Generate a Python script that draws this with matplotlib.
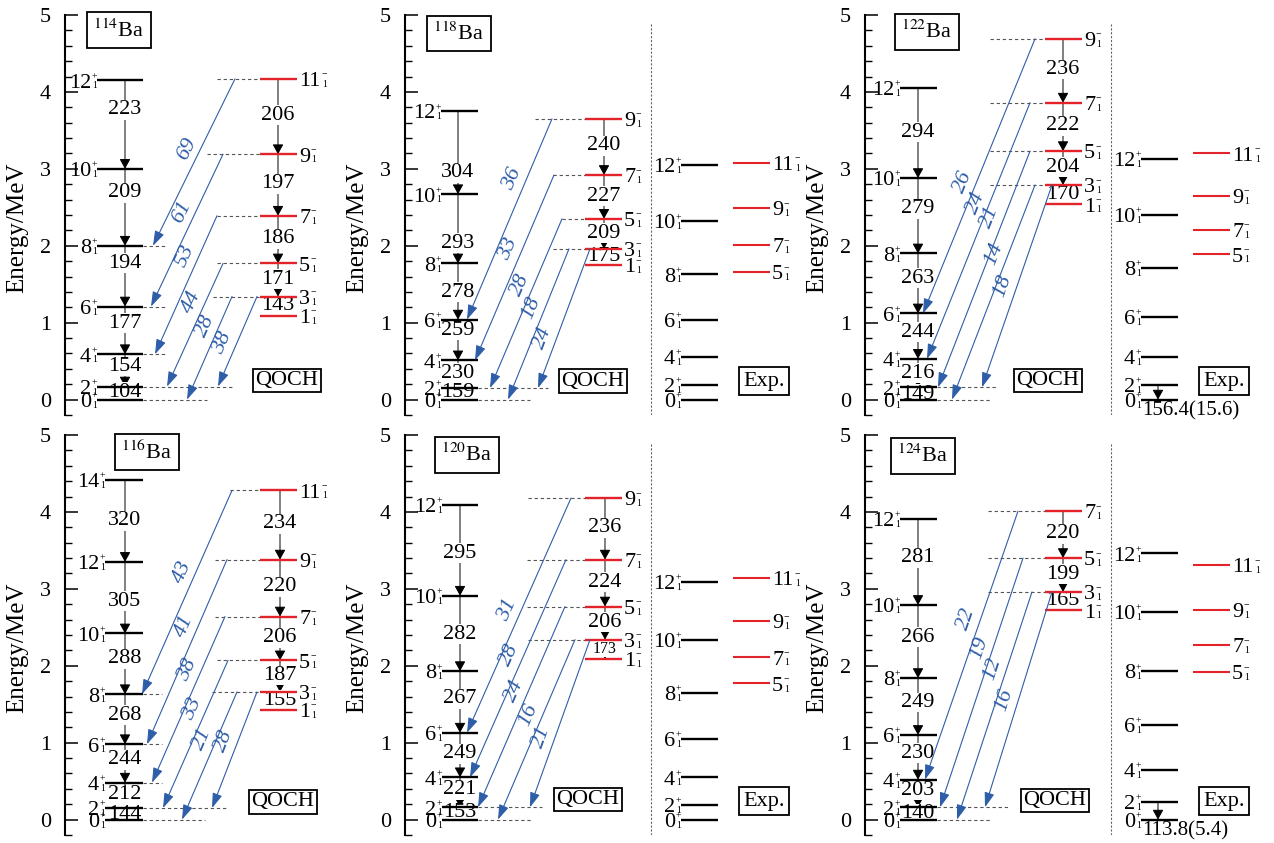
import math

import matplotlib

matplotlib.use("Agg")
import matplotlib.pyplot as plt
from matplotlib.ticker import MultipleLocator

plt.rcParams["font.family"] = ["Liberation Serif", "DejaVu Serif"]
plt.rcParams["mathtext.fontset"] = "stix"

# ---------------- values (energies in MeV) ----------------
GSB_SPINS = [0, 2, 4, 6, 8, 10, 12]
GSB_SPINS_116 = [0, 2, 4, 6, 8, 10, 12, 14]
EXP_NEG_SPINS = [5, 7, 9, 11]

BA114_GSB_E = [0.0, 0.17, 0.59, 1.21, 2.00, 3.00, 4.15]
BA114_GSB_B = [104, 154, 177, 194, 209, 223]
BA114_NEG_SPINS = [1, 3, 5, 7, 9, 11]
BA114_NEG_E = [1.09, 1.34, 1.77, 2.39, 3.19, 4.17]
BA114_NEG_B = [143, 171, 186, 197, 206]
BA114_E3_FROM = [11, 9, 7, 5, 3, 3]
BA114_E3_TO = [8, 6, 4, 2, 0, 2]
BA114_E3_VAL = [69, 61, 53, 44, 28, 38]

BA116_GSB_E = [0.0, 0.15, 0.48, 0.98, 1.63, 2.42, 3.35, 4.42]
BA116_GSB_B = [144, 212, 244, 268, 288, 305, 320]
BA116_NEG_SPINS = [1, 3, 5, 7, 9, 11]
BA116_NEG_E = [1.43, 1.66, 2.07, 2.64, 3.38, 4.28]
BA116_NEG_B = [155, 187, 206, 220, 234]
BA116_E3_FROM = [11, 9, 7, 5, 3, 3]
BA116_E3_TO = [8, 6, 4, 2, 0, 2]
BA116_E3_VAL = [43, 41, 38, 33, 21, 28]

BA118_GSB_E = [0.0, 0.15, 0.51, 1.04, 1.77, 2.67, 3.75]
BA118_GSB_B = [159, 230, 259, 278, 293, 304]
BA118_NEG_SPINS = [1, 3, 5, 7, 9]
BA118_NEG_E = [1.75, 1.96, 2.35, 2.92, 3.65]
BA118_NEG_B = [175, 209, 227, 240]
BA118_E3_FROM = [9, 7, 5, 3, 3]
BA118_E3_TO = [6, 4, 2, 0, 2]
BA118_E3_VAL = [36, 33, 28, 18, 24]
EXP118_GSB_E = [0.0, 0.19, 0.56, 1.04, 1.63, 2.32, 3.05]
EXP118_NEG_E = [1.66, 2.01, 2.49, 3.08]

BA120_GSB_E = [0.0, 0.16, 0.55, 1.13, 1.93, 2.91, 4.09]
BA120_GSB_B = [153, 221, 249, 267, 282, 295]
BA120_NEG_SPINS = [1, 3, 5, 7, 9]
BA120_NEG_E = [2.09, 2.34, 2.77, 3.38, 4.18]
BA120_NEG_B = [173, 206, 224, 236]
BA120_E3_FROM = [9, 7, 5, 3, 3]
BA120_E3_TO = [6, 4, 2, 0, 2]
BA120_E3_VAL = [31, 28, 24, 16, 21]
EXP120_GSB_E = [0.0, 0.19, 0.55, 1.05, 1.65, 2.34, 3.09]
EXP120_NEG_E = [1.77, 2.11, 2.58, 3.14]

BA122_GSB_E = [0.0, 0.16, 0.53, 1.12, 1.90, 2.88, 4.05]
BA122_GSB_B = [149, 216, 244, 263, 279, 294]
BA122_NEG_SPINS = [1, 3, 5, 7, 9]
BA122_NEG_E = [2.54, 2.79, 3.23, 3.86, 4.69]
BA122_NEG_B = [170, 204, 222, 236]
BA122_E3_FROM = [9, 7, 5, 3, 3]
BA122_E3_TO = [6, 4, 2, 0, 2]
BA122_E3_VAL = [26, 24, 21, 14, 18]
EXP122_GSB_E = [0.0, 0.19, 0.56, 1.08, 1.71, 2.40, 3.13]
EXP122_NEG_E = [1.89, 2.21, 2.65, 3.20]
EXP122_BE2 = "156.4(15.6)"

BA124_GSB_E = [0.0, 0.16, 0.52, 1.10, 1.84, 2.79, 3.91]
BA124_GSB_B = [140, 203, 230, 249, 266, 281]
BA124_NEG_SPINS = [1, 3, 5, 7]
BA124_NEG_E = [2.72, 2.96, 3.40, 4.01]
BA124_NEG_B = [165, 199, 220]
BA124_E3_FROM = [7, 5, 3, 3]
BA124_E3_TO = [4, 2, 0, 2]
BA124_E3_VAL = [22, 19, 12, 16]
EXP124_GSB_E = [0.0, 0.23, 0.65, 1.23, 1.93, 2.70, 3.46]
EXP124_NEG_E = [1.92, 2.27, 2.73, 3.31]
EXP124_BE2 = "113.8(5.4)"

# ---------------- layout (pixel offsets from the left spine) ----------------
FIG_W, FIG_H = 1274, 843
AX_H = 400
ROW_TOP = [15, 435]
COLS = [(65, 265), (405, 395), (865, 409)]
FS = 16
FS_SMALL = 7
RED = "#e3232a"
BLUE = "#2f5ea8"
DASH = "#555555"

PANELS = [
    dict(A=114, row=0, col=0, spins=GSB_SPINS, gsb_e=BA114_GSB_E, gsb_b=BA114_GSB_B,
         neg_s=BA114_NEG_SPINS, neg_e=BA114_NEG_E, neg_b=BA114_NEG_B,
         e3_from=BA114_E3_FROM, e3_to=BA114_E3_TO, e3_val=BA114_E3_VAL, exp=None,
         gsb=(32, 78), gsb_ax=60, neg=(195, 232), neg_ax=213, nuc=(54, 4.80), qoch=(222, 0.25),
         x0=[170, 158, 152, 158, 167, 192], x1=[88, 86, 90, 102, 122, 153],
         t=[0.42, 0.38, 0.29, 0.31, 0.29, 0.52], gf=[0.56, 0.62, 0.65, 0.71, 0.69, 0.67],
         gdash={8: 102, 6: 102, 4: 102, 2: 167, 0: 142},
         ndash={11: 152, 9: 142, 7: 152, 5: 152, 3: 148}),
    dict(A=118, row=0, col=1, spins=GSB_SPINS, gsb_e=BA118_GSB_E, gsb_b=BA118_GSB_B,
         neg_s=BA118_NEG_SPINS, neg_e=BA118_NEG_E, neg_b=BA118_NEG_B,
         e3_from=BA118_E3_FROM, e3_to=BA118_E3_TO, e3_val=BA118_E3_VAL,
         exp=dict(gsb_e=EXP118_GSB_E, neg_e=EXP118_NEG_E, be2=None),
         gsb=(36, 73), gsb_ax=53, neg=(180, 217), neg_ax=199, nuc=(54, 4.76), qoch=(188, 0.24),
         x0=[147, 149, 157, 164, 185], x1=[62, 70, 85, 103, 133],
         t=[0.30, 0.40, 0.39, 0.39, 0.64], gf=[0.6, 0.54, 0.74, 0.49, 0.29, 0.26],
         gdash={2: 143, 0: 125}, ndash={9: 130, 7: 148, 5: 157, 3: 148}),
    dict(A=122, row=0, col=2, spins=GSB_SPINS, gsb_e=BA122_GSB_E, gsb_b=BA122_GSB_B,
         neg_s=BA122_NEG_SPINS, neg_e=BA122_NEG_E, neg_b=BA122_NEG_B,
         e3_from=BA122_E3_FROM, e3_to=BA122_E3_TO, e3_val=BA122_E3_VAL,
         exp=dict(gsb_e=EXP122_GSB_E, neg_e=EXP122_NEG_E, be2=EXP122_BE2),
         gsb=(35, 72), gsb_ax=53, neg=(180, 217), neg_ax=198, nuc=(62, 4.78), qoch=(183, 0.25),
         x0=[170, 165, 165, 170, 187], x1=[58, 62, 73, 87, 117],
         t=[0.52, 0.39, 0.28, 0.32, 0.50], gf=[0.44, 0.49, 0.59, 0.59, 0.59, 0.51],
         gdash={2: 133, 0: 127}, ndash={9: 125, 7: 125, 5: 125, 3: 125}),
    dict(A=116, row=1, col=0, spins=GSB_SPINS_116, gsb_e=BA116_GSB_E, gsb_b=BA116_GSB_B,
         neg_s=BA116_NEG_SPINS, neg_e=BA116_NEG_E, neg_b=BA116_NEG_B,
         e3_from=BA116_E3_FROM, e3_to=BA116_E3_TO, e3_val=BA116_E3_VAL, exp=None,
         gsb=(40, 78), gsb_ax=60, neg=(195, 232), neg_ax=215, nuc=(82, 4.78), qoch=(218, 0.23),
         x0=[167, 162, 160, 163, 172, 192], x1=[77, 82, 87, 98, 117, 147],
         t=[0.40, 0.36, 0.32, 0.33, 0.37, 0.42], gf=[0.47, 0.52, 0.6, 0.58, 0.58, 0.45, 0.5],
         gdash={8: 97, 6: 97, 4: 97, 2: 162, 0: 140},
         ndash={11: 165, 9: 150, 7: 150, 5: 152, 3: 147}),
    dict(A=120, row=1, col=1, spins=GSB_SPINS, gsb_e=BA120_GSB_E, gsb_b=BA120_GSB_B,
         neg_s=BA120_NEG_SPINS, neg_e=BA120_NEG_E, neg_b=BA120_NEG_B,
         e3_from=BA120_E3_FROM, e3_to=BA120_E3_TO, e3_val=BA120_E3_VAL,
         exp=dict(gsb_e=EXP120_GSB_E, neg_e=EXP120_NEG_E, be2=None),
         gsb=(37, 73), gsb_ax=55, neg=(180, 217), neg_ax=200, nuc=(62, 4.74), qoch=(183, 0.26),
         x0=[166, 161, 160, 170, 185], x1=[62, 65, 73, 93, 125],
         t=[0.475, 0.44, 0.42, 0.42, 0.58], gf=[0.54, 0.59, 0.53, 0.55, 0.49, 0.47],
         gdash={2: 137, 0: 128}, ndash={9: 123, 7: 122, 5: 122, 3: 123}, small_neg=[0]),
    dict(A=124, row=1, col=2, spins=GSB_SPINS, gsb_e=BA124_GSB_E, gsb_b=BA124_GSB_B,
         neg_s=BA124_NEG_SPINS, neg_e=BA124_NEG_E, neg_b=BA124_NEG_B,
         e3_from=BA124_E3_FROM, e3_to=BA124_E3_TO, e3_val=BA124_E3_VAL,
         exp=dict(gsb_e=EXP124_GSB_E, neg_e=EXP124_NEG_E, be2=EXP124_BE2),
         gsb=(35, 72), gsb_ax=53, neg=(180, 217), neg_ax=198, nuc=(58, 4.73), qoch=(190, 0.25),
         x0=[153, 158, 167, 187], x1=[60, 75, 92, 120],
         t=[0.40, 0.36, 0.34, 0.50], gf=[0.46, 0.61, 0.59, 0.57, 0.56, 0.55],
         gdash={2: 143, 0: 127}, ndash={7: 123, 5: 123, 3: 123}),
]

EXP_SEP = 246
EXP_GSB = (276, 313)
EXP_NEG = (328, 365)
EXP_BOX = (359, 0.24)
EXP_ARROW_X = 293


def level_label(ax, x, e, spin, parity, side):
    # spin number with a small stacked parity (sup) and index 1 (sub)
    num = str(spin)
    base = -0.33 * FS
    if side == "left":
        col = -4.2
        ax.annotate(num, (x, e), xytext=(col, base), textcoords="offset points",
                    ha="right", va="baseline", fontsize=FS, zorder=3)
    else:
        ax.annotate(num, (x, e), xytext=(1.5, base), textcoords="offset points",
                    ha="left", va="baseline", fontsize=FS, zorder=3)
        col = 1.5 + 0.5 * FS * len(num) + 0.2
    sign = "+" if parity == "+" else "\u2212"
    ax.annotate(sign, (x, e), xytext=(col, 1.0), textcoords="offset points",
                ha="left", va="baseline", fontsize=FS_SMALL, zorder=3)
    ax.annotate("1", (x, e), xytext=(col + 0.4, -5.8), textcoords="offset points",
                ha="left", va="baseline", fontsize=FS_SMALL, zorder=3)


def down_arrow(ax, x, e_hi, e_lo):
    ax.annotate("", xy=(x, e_lo), xytext=(x, e_hi), zorder=1,
                arrowprops=dict(arrowstyle="-|>,head_length=0.6,head_width=0.33",
                                color="black", lw=0.7, shrinkA=0, shrinkB=0,
                                mutation_scale=10))


def box(ax, x, e, txt, pad):
    ax.text(x, e, txt, ha="center", va="center", fontsize=FS, zorder=5,
            bbox=dict(boxstyle=f"square,pad={pad}", fc="white", ec="black", lw=1.3))


def draw_band(ax, spins, energies, xr, x_arrow, color, parity, side, values, fracs, small=()):
    for s, e in zip(spins, energies):
        ax.hlines(e, xr[0], xr[1], color=color, lw=1.7, zorder=3)
        level_label(ax, xr[0] if side == "left" else xr[1], e, s, parity, side)
    for i, val in enumerate(values):
        lo, hi = energies[i], energies[i + 1]
        down_arrow(ax, x_arrow, hi, lo)
        y = lo + fracs[i] * (hi - lo)
        ax.text(x_arrow, y, str(val), ha="center", va="center",
                fontsize=FS * 0.72 if i in small else FS, zorder=2,
                bbox=dict(boxstyle="square,pad=0.02", fc="white", ec="none"))


fig = plt.figure(figsize=(FIG_W / 100, FIG_H / 100), dpi=100)

for p in PANELS:
    sx, w = COLS[p["col"]]
    top = ROW_TOP[p["row"]]
    ax = fig.add_axes([sx / FIG_W, 1 - (top + AX_H) / FIG_H, w / FIG_W, AX_H / FIG_H])
    ax.set_xlim(0, w)
    ax.set_ylim(-0.2, 5.0)
    for side in ("top", "right", "bottom"):
        ax.spines[side].set_visible(False)
    ax.spines["left"].set_linewidth(1.5)
    ax.set_xticks([])
    ax.yaxis.set_major_locator(MultipleLocator(1))
    ax.yaxis.set_minor_locator(MultipleLocator(0.2))
    ax.tick_params(axis="y", which="major", direction="in", length=9.5, width=1.1,
                   labelsize=FS, pad=10.0)
    ax.tick_params(axis="y", which="minor", direction="in", length=5, width=1.0)
    ax.set_ylabel("Energy/MeV", fontsize=18)
    ax.yaxis.set_label_coords(-37 / w, 0.467)

    gsb_idx = {s: i for i, s in enumerate(p["spins"])}
    neg_idx = {s: i for i, s in enumerate(p["neg_s"])}

    # calculated bands
    draw_band(ax, p["spins"], p["gsb_e"], p["gsb"], p["gsb_ax"], "black", "+", "left",
              p["gsb_b"], p["gf"])
    draw_band(ax, p["neg_s"], p["neg_e"], p["neg"], p["neg_ax"], RED, "-", "right",
              p["neg_b"], [0.52] * len(p["neg_b"]), p.get("small_neg", ()))

    # dashed extensions
    for s, xe in p["gdash"].items():
        ax.hlines(p["gsb_e"][gsb_idx[s]], p["gsb"][1], xe, color=DASH, lw=0.8,
                  linestyles=(0, (3, 2.5)), zorder=1.5)
    for s, xs in p["ndash"].items():
        ax.hlines(p["neg_e"][neg_idx[s]], xs, p["neg"][0], color=DASH, lw=0.8,
                  linestyles=(0, (3, 2.5)), zorder=1.5)

    # interband arrows with their values
    for k, (sf, st, val) in enumerate(zip(p["e3_from"], p["e3_to"], p["e3_val"])):
        e0 = p["neg_e"][neg_idx[sf]]
        e1 = p["gsb_e"][gsb_idx[st]]
        x0, x1 = p["x0"][k], p["x1"][k]
        ax.annotate("", xy=(x1, e1), xytext=(x0, e0), zorder=4,
                    arrowprops=dict(arrowstyle="-|>,head_length=0.9,head_width=0.3",
                                    color=BLUE, lw=0.8, shrinkA=0, shrinkB=0,
                                    mutation_scale=10))
        d0 = ax.transData.transform((x0, e0))
        d1 = ax.transData.transform((x1, e1))
        ang = math.degrees(math.atan2(d0[1] - d1[1], d0[0] - d1[0]))
        tt = p["t"][k]
        xl = x0 + tt * (x1 - x0) - 14
        yl = e0 + tt * (e1 - e0)
        ax.text(xl, yl, str(val), color=BLUE, fontsize=FS, rotation=ang, style="italic",
                ha="center", va="center", rotation_mode="anchor", zorder=4)

    box(ax, p["nuc"][0], p["nuc"][1], rf"$^{{{p['A']}}}$Ba", 0.3)
    box(ax, p["qoch"][0], p["qoch"][1], "QOCH", 0.1)

    ex = p["exp"]
    if ex is not None:
        ax.plot([EXP_SEP, EXP_SEP], [-0.2, 4.9], color="#666666", lw=0.8,
                ls=(0, (2, 1.5)), zorder=1)
        for s, e in zip(GSB_SPINS, ex["gsb_e"]):
            ax.hlines(e, EXP_GSB[0], EXP_GSB[1], color="black", lw=1.7, zorder=3)
            level_label(ax, EXP_GSB[0], e, s, "+", "left")
        for s, e in zip(EXP_NEG_SPINS, ex["neg_e"]):
            ax.hlines(e, EXP_NEG[0], EXP_NEG[1], color=RED, lw=1.5, zorder=3)
            level_label(ax, EXP_NEG[1], e, s, "-", "right")
        box(ax, EXP_BOX[0], EXP_BOX[1], "Exp.", 0.2)
        if ex["be2"] is not None:
            down_arrow(ax, EXP_ARROW_X, ex["gsb_e"][1], ex["gsb_e"][0])
            ax.text(EXP_GSB[0] + 1, -0.02, ex["be2"], ha="left", va="top", fontsize=15,
                    zorder=3)

fig.savefig("out.png", dpi=100)
